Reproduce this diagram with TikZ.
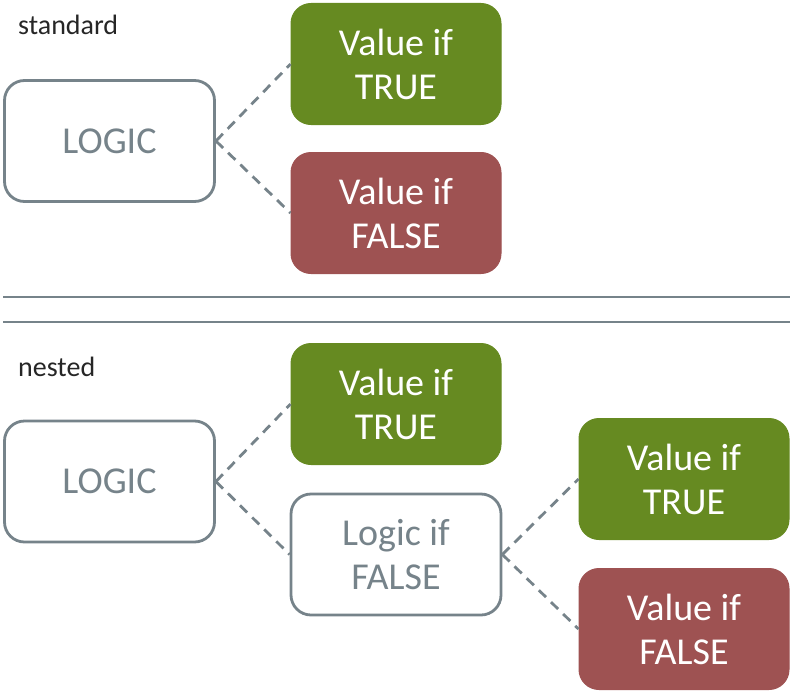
\documentclass[tikz,border=0pt]{standalone}
\usepackage{fontspec}
\setmainfont{Carlito}
\definecolor{gr}{HTML}{668A21}
\definecolor{rd}{HTML}{9E5252}
\definecolor{gy}{HTML}{76838A}
\definecolor{tx}{HTML}{262626}
\begin{document}
\begin{tikzpicture}[x=1pt,y=-1pt,
  box/.style={rectangle,rounded corners=20pt,minimum width=210pt,minimum height=121pt,inner sep=0pt,align=center,font=\fontsize{38}{44}\selectfont},
  logicbox/.style={box,draw=gy,line width=2.8pt,fill=white,text=gy},
  truebox/.style={box,fill=gr,draw=gr,line width=1pt,text=white},
  falsebox/.style={box,fill=rd,draw=rd,line width=1pt,text=white},
  conn/.style={draw=gy,line width=2.8pt,dash pattern=on 10pt off 7pt},
  sep/.style={draw=gy,line width=2pt},
  lbl/.style={anchor=base west,inner sep=0pt,text=tx,font=\fontsize{28}{32}\selectfont}]
\useasboundingbox (0,0) rectangle (791,698);
\node[lbl] (st) at (18,35) {standard};
\node[lbl] (ne) at (18,376) {nested};
\node[logicbox] (l1) at (109.5,141) {LOGIC};
\node[truebox] (t1) at (396,64) {Value if\\TRUE};
\node[falsebox] (f1) at (396,213) {Value if\\FALSE};
\draw[conn] (l1.east) -- (t1.west);
\draw[conn] (l1.east) -- (f1.west);
\coordinate (a1) at (3,297);
\coordinate (b1) at (790,297);
\coordinate (a2) at (3,322);
\coordinate (b2) at (790,322);
\draw[sep] (a1) -- (b1);
\draw[sep] (a2) -- (b2);
\node[logicbox] (l2) at (109.5,481.5) {LOGIC};
\node[truebox] (t2) at (396,404) {Value if\\TRUE};
\node[logicbox] (lf) at (396,554.5) {Logic if\\FALSE};
\node[truebox] (t3) at (684,479) {Value if\\TRUE};
\node[falsebox] (f3) at (684,629) {Value if\\FALSE};
\draw[conn] (l2.east) -- (t2.west);
\draw[conn] (l2.east) -- (lf.west);
\draw[conn] (lf.east) -- (t3.west);
\draw[conn] (lf.east) -- (f3.west);
\end{tikzpicture}
\end{document}
